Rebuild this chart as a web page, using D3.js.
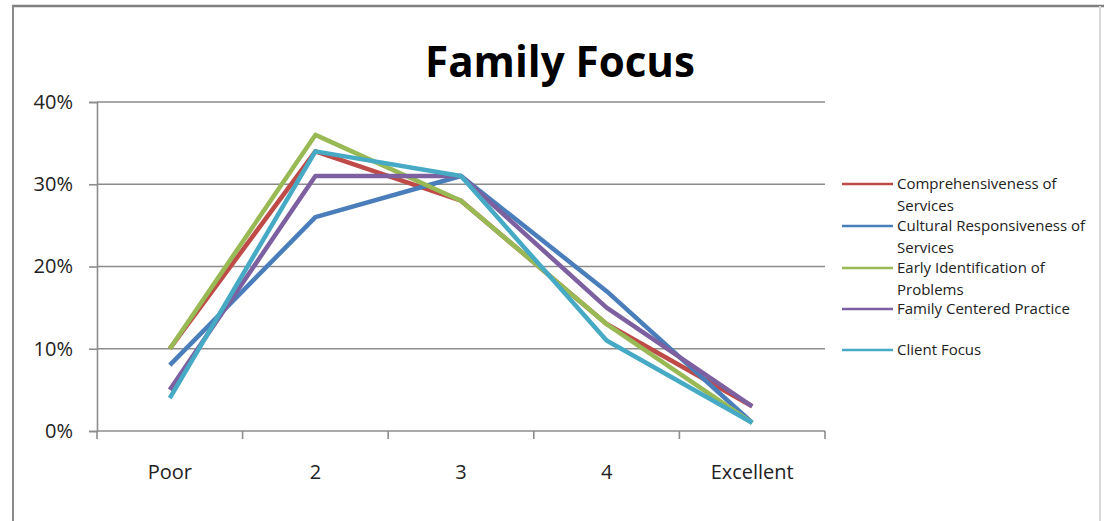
<!DOCTYPE html>
<html>
<head>
<meta charset="utf-8">
<script src="https://cdn.jsdelivr.net/npm/d3@7"></script>
<style>
  html, body { margin: 0; padding: 0; background: #fff; }
  svg { display: block; }
</style>
</head>
<body>
<div id="vue"></div>
<script>
// données
var categories = ["Poor", "2", "3", "4", "Excellent"];
var seriesNames = ["Comprehensiveness of Services", "Cultural Responsiveness of Services",
                   "Early Identification of Problems", "Family Centered Practice", "Client Focus"];
var comprehensiveness = [0.10, 0.34, 0.28, 0.13, 0.03];
var cultural = [0.08, 0.26, 0.31, 0.17, 0.01];
var earlyIdent = [0.10, 0.36, 0.28, 0.13, 0.01];
var familyCentered = [0.05, 0.31, 0.31, 0.15, 0.03];
var clientFocus = [0.04, 0.34, 0.31, 0.11, 0.01];
var yTicks = [0, 0.1, 0.2, 0.3, 0.4];
var colors = ["#be4b48", "#4a7ebb", "#98b954", "#7d60a0", "#46aac5"];

var allSeries = [comprehensiveness, cultural, earlyIdent, familyCentered, clientFocus];

var width = 1104, height = 521;
var font = "'Open Sans', 'DejaVu Sans', sans-serif";

var svg = d3.select("#vue").append("svg")
    .attr("width", width)
    .attr("height", height);

// cadre
svg.append("line").attr("x1", 12).attr("x2", width).attr("y1", 6).attr("y2", 6)
   .attr("stroke", "#7f7f7f").attr("stroke-width", 2.5);
svg.append("line").attr("x1", 13).attr("x2", 13).attr("y1", 6).attr("y2", height)
   .attr("stroke", "#8a8a8a").attr("stroke-width", 2);
svg.append("line").attr("x1", 1100).attr("x2", 1100).attr("y1", 6).attr("y2", height)
   .attr("stroke", "#d9d9d9").attr("stroke-width", 2);

var x = d3.scalePoint().domain(categories).range([97, 825]).padding(0.5);
var y = d3.scaleLinear().domain([0, 0.4]).range([431, 102]);

// titre
var title = svg.append("text")
    .attr("x", 560).attr("y", 77)
    .attr("text-anchor", "middle")
    .attr("font-family", font)
    .attr("font-weight", "bold")
    .attr("font-size", 40)
    .attr("fill", "#000")
    .text("Family Focus");
// ajuster la largeur du titre
var tw = title.node().getComputedTextLength();
title.attr("font-size", 40 * 270 / tw);

// lignes de grille
svg.append("g").selectAll("line")
    .data(yTicks.slice(1))
    .enter().append("line")
    .attr("x1", 97).attr("x2", 825)
    .attr("y1", function (d) { return y(d); })
    .attr("y2", function (d) { return y(d); })
    .attr("stroke", "#8c8c8c").attr("stroke-width", 1.6);

// axe Y
var yAxis = svg.append("g")
    .attr("transform", "translate(97,0)")
    .call(d3.axisLeft(y).tickValues(yTicks).tickSize(8).tickPadding(16)
        .tickFormat(d3.format(".0%")));
yAxis.select(".domain").attr("stroke", "#8c8c8c").attr("stroke-width", 1.6);
yAxis.selectAll(".tick line").attr("stroke", "#8c8c8c").attr("stroke-width", 1.6);
yAxis.selectAll("text").attr("font-family", font).attr("font-size", 20).attr("fill", "#222");

// axe X
var bounds = d3.range(categories.length + 1).map(function (i) { return 97 + i * x.step(); });
var xg = svg.append("g");
xg.append("line").attr("x1", 97).attr("x2", 825).attr("y1", 431).attr("y2", 431)
  .attr("stroke", "#8c8c8c").attr("stroke-width", 1.6);
xg.selectAll("line.tk").data(bounds).enter().append("line")
  .attr("class", "tk")
  .attr("x1", function (d) { return d; }).attr("x2", function (d) { return d; })
  .attr("y1", 431).attr("y2", 439)
  .attr("stroke", "#8c8c8c").attr("stroke-width", 1.6);
xg.selectAll("text").data(categories).enter().append("text")
  .attr("x", function (d) { return x(d); })
  .attr("y", 479)
  .attr("text-anchor", "middle")
  .attr("font-family", font).attr("font-size", 20).attr("fill", "#222")
  .text(function (d) { return d; });

// séries
var line = d3.line()
    .x(function (d, i) { return x(categories[i]); })
    .y(function (d) { return y(d); });

svg.append("g").selectAll("path")
    .data(allSeries)
    .enter().append("path")
    .attr("d", line)
    .attr("fill", "none")
    .attr("stroke", function (d, i) { return colors[i]; })
    .attr("stroke-width", 4.5)
    .attr("stroke-linejoin", "round");

// légende
var legendY = [184, 226, 268, 309, 350];
var legendLines = [["Comprehensiveness of", "Services"], ["Cultural Responsiveness of", "Services"],
                   ["Early Identification of", "Problems"], ["Family Centered Practice"], ["Client Focus"]];
var leg = svg.append("g").selectAll("g")
    .data(seriesNames)
    .enter().append("g")
    .attr("transform", function (d, i) { return "translate(0," + legendY[i] + ")"; });
leg.append("line")
    .attr("x1", 842).attr("x2", 893).attr("y1", 0).attr("y2", 0)
    .attr("stroke", function (d, i) { return colors[i]; })
    .attr("stroke-width", 2.5);
leg.each(function (d, i) {
  var t = d3.select(this).append("text")
      .attr("x", 897).attr("y", 5)
      .attr("font-family", font).attr("font-size", 15).attr("fill", "#222");
  legendLines[i].forEach(function (s, j) {
    t.append("tspan").attr("x", 897).attr("dy", j === 0 ? 0 : 21.5).text(s);
  });
});
</script>
</body>
</html>
